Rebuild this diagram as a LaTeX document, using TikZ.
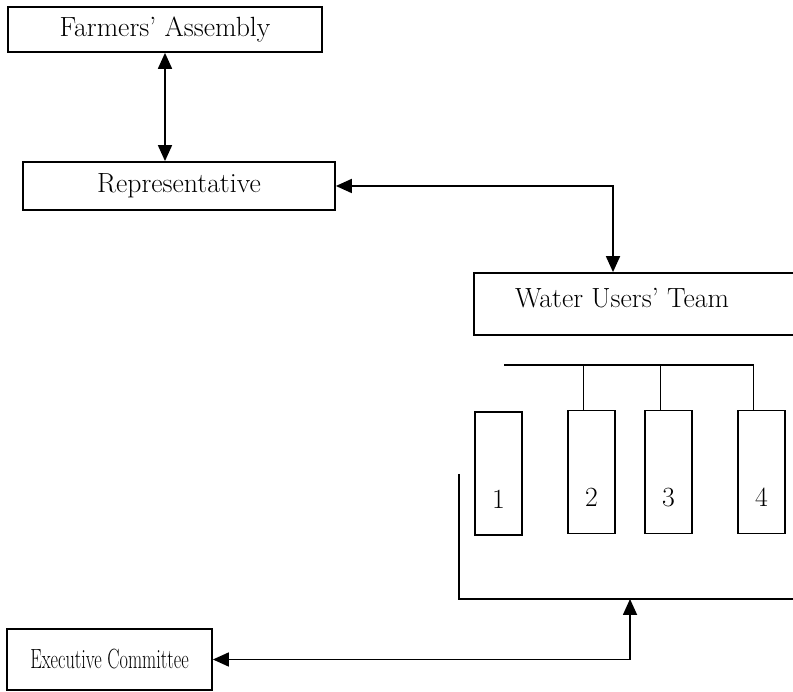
\documentclass[tikz,border=0pt]{standalone}
\usepackage{tikz}
\usetikzlibrary{arrows.meta}
\definecolor{chartLine}{HTML}{000000}

\begin{document}
\begin{tikzpicture}[
    x=1cm,y=1cm,
    every node/.style={font=\fontsize{15.8}{19}\selectfont,align=center},
    box/.style={draw=chartLine,line width=1pt,inner sep=0pt},
    unit/.style={box,minimum width=0.94cm,minimum height=2.46cm,text height=1.4cm},
    link/.style={draw=chartLine,line width=1pt},
    flow/.style={link,{Triangle[length=3.2mm,width=2.8mm]}-{Triangle[length=3.2mm,width=2.8mm]}}
]
\useasboundingbox (0,0) rectangle (15.86,13.84);
\node[box,minimum width=6.28cm,minimum height=0.9cm] (assembly) at (3.30,13.25) {Farmers' Assembly};
\node[box,minimum width=6.24cm,minimum height=0.96cm] (rep) at (3.58,10.12) {Representative};
\node[box,minimum width=6.62cm,minimum height=1.24cm] (team) at (12.79,7.76) {};
\node (teamtext) at (12.44,7.88) {Water Users' Team};
\node[unit] (u1) at (9.97,4.37) {1};
\node[unit] (u2) at (11.83,4.40) {2};
\node[unit] (u3) at (13.37,4.40) {3};
\node[unit] (u4) at (15.23,4.40) {4};
\node[box,minimum width=4.10cm,minimum height=1.22cm] (exec) at (2.19,0.65) {\scalebox{0.66}[1]{Executive Committee}};
\coordinate (busL) at (10.08,6.54);
\coordinate (busR) at (15.08,6.54);
\coordinate (brTop) at (9.18,4.36);
\coordinate (brEnd) at (16.20,1.86);
\coordinate (tie) at (12.60,1.86);
% links between bodies
\draw[flow] (assembly.south) -- (assembly.south |- rep.north);
\draw[flow] (rep.east) -| ([xshift=-5.3mm]team.north);
\draw[flow] (exec.east) -| (tie);
% teams under the bus
\draw[link] (busL) -- (busR);
\draw[link] ([xshift=-1.6mm]u2.north) -- ([xshift=-1.6mm]u2.north |- busL);
\draw[link] ([xshift=-1.6mm]u3.north) -- ([xshift=-1.6mm]u3.north |- busL);
\draw[link] ([xshift=-1.6mm]u4.north) -- ([xshift=-1.6mm]u4.north |- busL);
\draw[link] (brTop) |- (brEnd);
\end{tikzpicture}
\end{document}
